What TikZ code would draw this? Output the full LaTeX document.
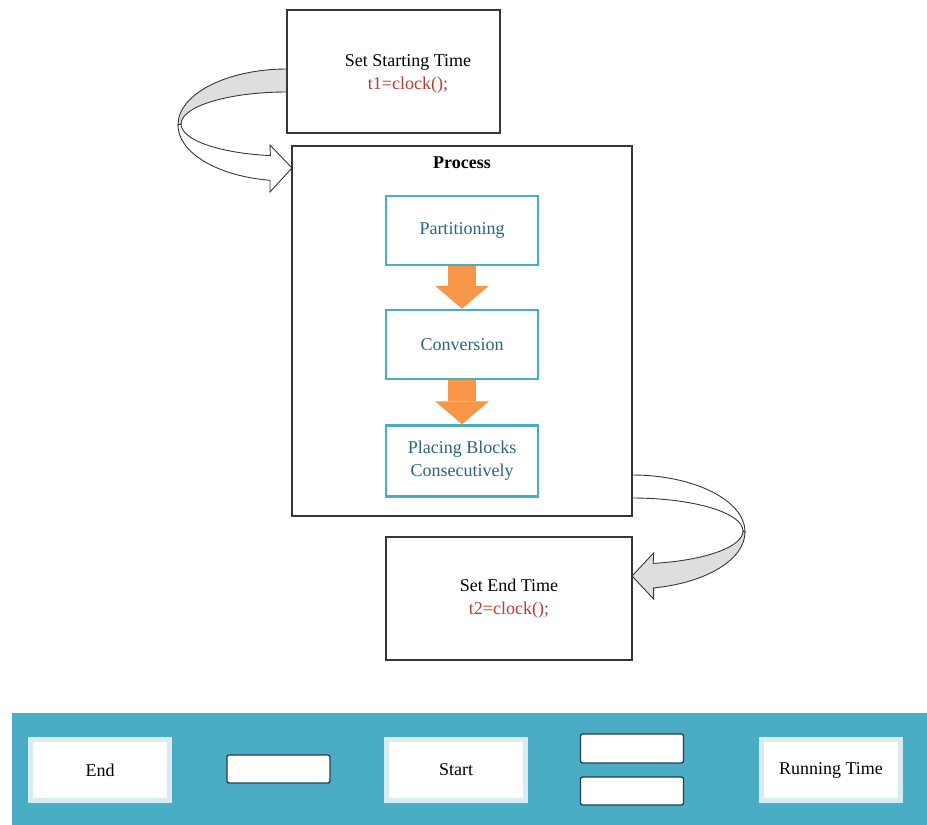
\documentclass[tikz,border=0pt]{standalone}
\usepackage{fontspec}
\setmainfont{Liberation Serif}
\usetikzlibrary{arrows.meta,positioning,calc}

\definecolor{boxteal}{RGB}{75,172,198}
\definecolor{textteal}{RGB}{45,100,122}
\definecolor{floworange}{RGB}{247,150,70}
\definecolor{codered}{RGB}{178,62,52}
\definecolor{edgegray}{RGB}{55,55,55}
\definecolor{facegray}{RGB}{222,222,222}
\definecolor{slotblue}{RGB}{30,62,82}

\begin{document}
\begin{tikzpicture}[x=1pt,y=-1pt,
  font=\fontsize{18}{23}\selectfont,
  plainbox/.style={draw=edgegray,line width=1.2pt,fill=white},
  stepbox/.style={draw=boxteal,line width=2.5pt,fill=white,text=textteal,
    minimum width=152pt,minimum height=69pt,align=center},
  flow/.style={draw=floworange,line width=28pt,
    -{Triangle[width=54pt,length=23pt,line width=0pt]}},
  frontface/.style={draw=edgegray,line width=0.9pt,fill=white},
  backface/.style={draw=edgegray,line width=0.9pt,fill=facegray},
  glowbox/.style={fill=white,draw=boxteal!22!white,line width=5pt,
    minimum width=139pt,minimum height=61pt},
  slot/.style={draw=slotblue,line width=1.3pt,fill=white,rounded corners=2pt,
    minimum width=103pt,minimum height=28pt}]
  \useasboundingbox (0,0) rectangle (927,825); % 画像全体の範囲

  % 左側の曲がった矢印（開始時刻 → 処理）
  \draw[backface] (287,69) arc[start angle=270,end angle=180,x radius=109,y radius=56]
    -- (181,124) arc[start angle=180,end angle=270,x radius=106,y radius=32] -- cycle; % 裏面（灰色）
  \draw[frontface] (178,125) arc[start angle=180,end angle=99,x radius=109,y radius=56]
    -- (270,192) -- (292,168) -- (270,145) -- (270.4,155.6)
    arc[start angle=99,end angle=180,x radius=106,y radius=32] -- cycle; % 表面と矢じり

  % 右側の曲がった矢印（処理 → 終了時刻）
  \draw[frontface] (632,475) arc[start angle=270,end angle=360,x radius=113,y radius=57]
    -- (743,531) arc[start angle=360,end angle=270,x radius=111,y radius=33] -- cycle; % 表面
  \draw[backface] (745,532) arc[start angle=0,end angle=79,x radius=113,y radius=57]
    -- (653.6,599) -- (632,576) -- (653.6,553) -- (653.2,563.4)
    arc[start angle=79,end angle=0,x radius=111,y radius=33] -- cycle; % 裏面と矢じり

  \node[plainbox,minimum width=213pt,minimum height=123pt] (start) at (393.5,71.5) {}; % 開始時刻の枠
  \node[align=center] (starttxt) at (408,74) {Set Starting Time\\\textcolor{codered}{t1=clock();}};

  \node[plainbox,minimum width=340pt,minimum height=370pt] (process) at (462,331) {}; % 処理の枠
  \node[font=\fontsize{18}{23}\selectfont\bfseries] (proctxt) at (462,163) {Process};

  \node[stepbox] (part) at (462,230.5) {Partitioning};
  \node[stepbox] (conv) at (462,344.5) {Conversion};
  \node[stepbox,minimum height=71pt] (place) at (462,461) {Placing Blocks\\Consecutively};
  \draw[flow] (part) -- (conv); % オレンジの矢印
  \draw[flow] (conv) -- (place);

  \node[plainbox,minimum width=246pt,minimum height=123pt] (endbox) at (509,598.5) {}; % 終了時刻の枠
  \node[align=center] (endtxt) at (509,599) {Set End Time\\\textcolor{codered}{t2=clock();}};

  % 下の帯
  \fill[boxteal] (12,713) rectangle (927,825); % 青緑の帯
  \node[glowbox] (endlbl) at (100,770) {End};
  \node[slot] (blank) at (278.5,769) {};
  \node[glowbox] (startlbl) at (456,770) {Start};
  \node[slot,minimum height=29pt] (blanktop) at (632,748.5) {};
  \node[slot] (blankbot) at (632,791) {};
  \node[glowbox] (runlbl) at (831,770) {Running Time};
\end{tikzpicture}
\end{document}
